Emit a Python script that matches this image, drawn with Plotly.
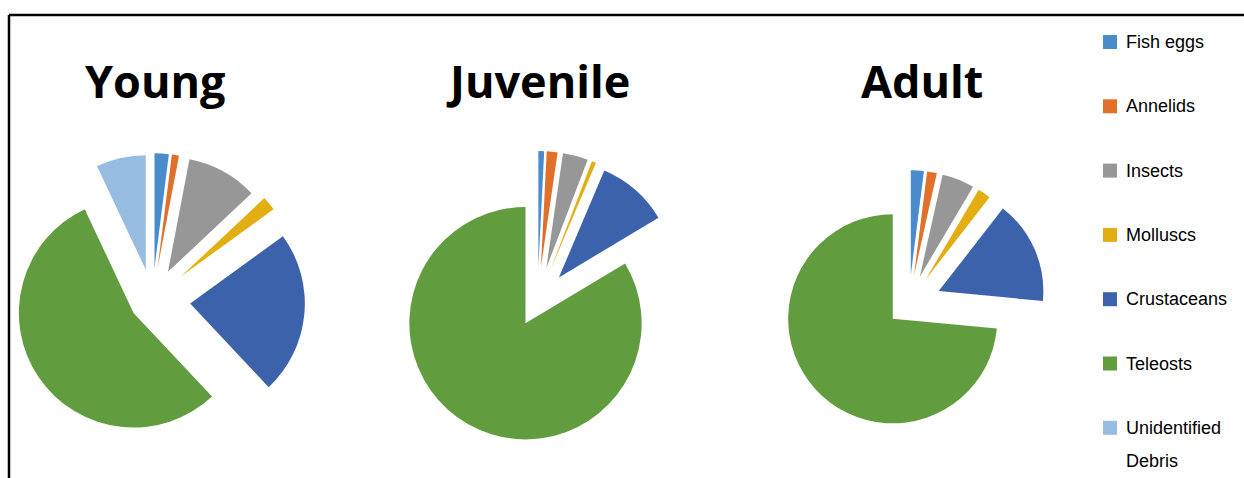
import plotly.graph_objects as go

# ---- data ----
categories = ["Fish eggs", "Annelids", "Insects", "Molluscs", "Crustaceans", "Teleosts", "Unidentified Debris"]
legend_lines = [["Fish eggs"], ["Annelids"], ["Insects"], ["Molluscs"], ["Crustaceans"], ["Teleosts"], ["Unidentified", "Debris"]]
stages = ["Young", "Juvenile", "Adult"]
young = [2, 1, 10, 2, 23, 55, 7]
juvenile = [0.8, 1.5, 3.5, 0.6, 10, 83.6, 0]
adult = [2, 1.5, 5, 2, 16, 73.5, 0]
colors = ["#4A8CCB", "#E0702A", "#979797", "#E3AE12", "#3C62AC", "#619C3F", "#97BCE2"]

W, H = 1244, 478

def px_x(x):
    return x / W

def px_y(y):
    return 1 - y / H

# pie layout: center (px), box size (px), pulls
pie_specs = [
    dict(values=young, cx=152, cy=300, size=306, pull=[0.28, 0.28, 0.28, 0.32, 0.33, 0.2, 0.27], tx=155),
    dict(values=juvenile, cx=537.5, cy=302, size=302, pull=[0.3, 0.3, 0.3, 0.3, 0.28, 0.21, 0], tx=538),
    dict(values=adult, cx=909, cy=304, size=274, pull=[0.28, 0.28, 0.28, 0.28, 0.31, 0.21, 0], tx=922),
]

fig = go.Figure()
for name, s in zip(stages, pie_specs):
    half_w = s["size"] / 2
    half_h = s["size"] / 2 + 20
    fig.add_trace(go.Pie(
        labels=categories, values=s["values"], name=name,
        sort=False, direction="clockwise", rotation=0,
        pull=s["pull"], textinfo="none", hoverinfo="label+percent",
        marker=dict(colors=colors, line=dict(width=0)),
        domain=dict(x=[max(0, px_x(s["cx"] - half_w)), px_x(s["cx"] + half_w)],
                    y=[px_y(s["cy"] + half_h), px_y(s["cy"] - half_h)]),
        showlegend=False,
    ))
    fig.add_annotation(x=px_x(s["tx"]), y=px_y(81), xref="paper", yref="paper",
                       text="<b>" + name + "</b>", showarrow=False,
                       xanchor="center", yanchor="middle",
                       font=dict(family="Open Sans", size=45, color="#000000"))

# manual legend
shapes = []
for i, (lines, col) in enumerate(zip(legend_lines, colors)):
    yc = 42 + i * 64.3
    shapes.append(dict(type="rect", xref="paper", yref="paper",
                       x0=px_x(1103), x1=px_x(1117), y0=px_y(yc + 7), y1=px_y(yc - 7),
                       fillcolor=col, line=dict(width=0)))
    for j, ln in enumerate(lines):
        fig.add_annotation(x=px_x(1124), y=px_y(yc + j * 33), xref="paper", yref="paper",
                           text=ln, showarrow=False, xanchor="left", yanchor="middle",
                           font=dict(family="Liberation Sans, Arial, sans-serif",
                                     size=18, color="#000000"))

# frame lines
shapes.append(dict(type="line", xref="paper", yref="paper", x0=px_x(9), x1=1, y0=px_y(15), y1=px_y(15),
                   line=dict(color="#000000", width=2.5)))
shapes.append(dict(type="line", xref="paper", yref="paper", x0=px_x(9), x1=px_x(9), y0=px_y(15), y1=0,
                   line=dict(color="#000000", width=2.5)))

fig.update_layout(width=W, height=H, margin=dict(l=0, r=0, t=0, b=0),
                  paper_bgcolor="#FFFFFF", plot_bgcolor="#FFFFFF", shapes=shapes)

fig.write_html("out.html", config={"displayModeBar": False},
               post_script="document.body.style.margin='0';document.body.style.overflow='hidden';")
